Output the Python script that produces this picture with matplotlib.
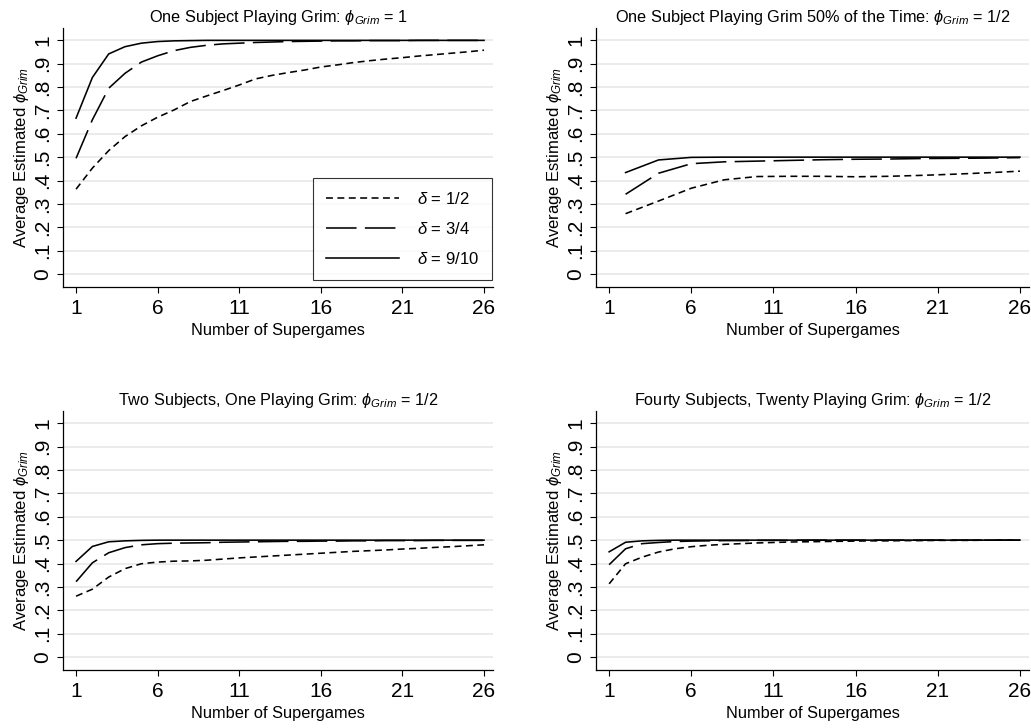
import matplotlib
matplotlib.use("Agg")
import matplotlib.pyplot as plt

plt.rcParams['font.family'] = ['Liberation Sans', 'DejaVu Sans']
plt.rcParams['mathtext.fontset'] = 'custom'
plt.rcParams['mathtext.rm'] = 'Liberation Sans'
plt.rcParams['mathtext.it'] = 'Liberation Sans:italic'
plt.rcParams['mathtext.fallback'] = 'stixsans'
plt.rcParams['lines.scale_dashes'] = False

# ---------------- data ----------------
x_all = list(range(1, 27))
x_even = list(range(2, 27, 2))

# Panel 1: One Subject Playing Grim (phi = 1)
p1_d50 = [0.363, 0.453, 0.528, 0.588, 0.634, 0.671, 0.702, 0.738, 0.762, 0.785,
          0.809, 0.835, 0.850, 0.862, 0.873, 0.886, 0.895, 0.905, 0.913, 0.920,
          0.926, 0.933, 0.939, 0.945, 0.951, 0.958]
p1_d75 = [0.495, 0.660, 0.795, 0.859, 0.907, 0.934, 0.956, 0.970, 0.979, 0.985,
          0.988, 0.991, 0.993, 0.995, 0.996, 0.997, 0.998, 0.998, 0.999, 0.999,
          0.999, 1.000, 1.000, 1.000, 1.000, 1.000]
p1_d90 = [0.667, 0.841, 0.942, 0.973, 0.988, 0.995, 0.998, 0.999, 1.000, 1.000,
          1.000, 1.000, 1.000, 1.000, 1.000, 1.000, 1.000, 1.000, 1.000, 1.000,
          1.000, 1.000, 1.000, 1.000, 1.000, 1.000]

# Panel 2: One Subject Playing Grim 50% of the Time (even supergames only)
p2_d50 = [0.258, 0.312, 0.367, 0.403, 0.417, 0.418, 0.418, 0.416, 0.418, 0.422,
          0.427, 0.433, 0.440]
p2_d75 = [0.341, 0.431, 0.472, 0.480, 0.483, 0.486, 0.489, 0.491, 0.492, 0.494,
          0.495, 0.496, 0.498]
p2_d90 = [0.434, 0.488, 0.499, 0.500, 0.500, 0.500, 0.500, 0.500, 0.500, 0.500,
          0.500, 0.500, 0.500]

# Panel 3: Two Subjects, One Playing Grim
p3_d50 = [0.260, 0.290, 0.342, 0.378, 0.399, 0.406, 0.410, 0.411, 0.414, 0.419,
          0.424, 0.428, 0.432, 0.436, 0.440, 0.444, 0.448, 0.452, 0.455, 0.458,
          0.462, 0.465, 0.469, 0.472, 0.476, 0.480]
p3_d75 = [0.322, 0.403, 0.446, 0.468, 0.480, 0.485, 0.487, 0.488, 0.489, 0.491,
          0.492, 0.493, 0.494, 0.495, 0.495, 0.496, 0.496, 0.497, 0.497, 0.498,
          0.498, 0.498, 0.499, 0.499, 0.499, 0.499]
p3_d90 = [0.409, 0.473, 0.493, 0.497, 0.499, 0.500, 0.500, 0.500, 0.500, 0.500,
          0.500, 0.500, 0.500, 0.500, 0.500, 0.500, 0.500, 0.500, 0.500, 0.500,
          0.500, 0.500, 0.500, 0.500, 0.500, 0.500]

# Panel 4: Fourty Subjects, Twenty Playing Grim
p4_d50 = [0.313, 0.399, 0.427, 0.449, 0.463, 0.472, 0.478, 0.482, 0.485, 0.488,
          0.490, 0.492, 0.493, 0.494, 0.495, 0.496, 0.497, 0.497, 0.498, 0.498,
          0.499, 0.499, 0.499, 0.500, 0.500, 0.500]
p4_d75 = [0.395, 0.463, 0.485, 0.490, 0.494, 0.496, 0.497, 0.498, 0.498, 0.499,
          0.499, 0.499, 0.500, 0.500, 0.500, 0.500, 0.500, 0.500, 0.500, 0.500,
          0.500, 0.500, 0.500, 0.500, 0.500, 0.500]
p4_d90 = [0.450, 0.491, 0.497, 0.499, 0.500, 0.500, 0.500, 0.500, 0.500, 0.500,
          0.500, 0.500, 0.500, 0.500, 0.500, 0.500, 0.500, 0.500, 0.500, 0.500,
          0.500, 0.500, 0.500, 0.500, 0.500, 0.500]

titles = [
    r"One Subject Playing Grim: $\phi_{Grim}$ = 1",
    r"One Subject Playing Grim 50% of the Time: $\phi_{Grim}$ = 1/2",
    r"Two Subjects, One Playing Grim: $\phi_{Grim}$ = 1/2",
    r"Fourty Subjects, Twenty Playing Grim: $\phi_{Grim}$ = 1/2",
]
legend_labels = [r"$\delta$ = 1/2", r"$\delta$ = 3/4", r"$\delta$ = 9/10"]
xticks = [1, 6, 11, 16, 21, 26]
yticks = [0, 0.1, 0.2, 0.3, 0.4, 0.5, 0.6, 0.7, 0.8, 0.9, 1.0]
ytick_labels = ["0", ".1", ".2", ".3", ".4", ".5", ".6", ".7", ".8", ".9", "1"]

panels = [
    (x_all, p1_d50, p1_d75, p1_d90),
    (x_even, p2_d50, p2_d75, p2_d90),
    (x_all, p3_d50, p3_d75, p3_d90),
    (x_all, p4_d50, p4_d75, p4_d90),
]

# ---------------- layout ----------------
W, H = 1031, 728
fig = plt.figure(figsize=(W / 100, H / 100), dpi=100)

def rect(l, r, t, b):
    return [l / W, 1 - b / H, (r - l) / W, (b - t) / H]

rects = [
    rect(63, 493, 28, 287),
    rect(596, 1029, 28, 287),
    rect(63, 493, 411, 670),
    rect(596, 1029, 411, 670),
]

short_dash = (0, (5.0, 3.2))
long_dash = (0, (22.0, 6.0))
lw = 1.15

for i, (r, (xs, d50, d75, d90), title) in enumerate(zip(rects, panels, titles)):
    ax = fig.add_axes(r)
    for yt in yticks:
        ax.axhline(yt, color='#e6e6e6', lw=1.1, zorder=0)
    l1, = ax.plot(xs, d50, color='black', lw=lw, linestyle=short_dash)
    l2, = ax.plot(xs, d75, color='black', lw=lw, linestyle=long_dash)
    l3, = ax.plot(xs, d90, color='black', lw=lw, linestyle='-')
    ax.set_xlim(0.2, 26.55)
    ax.set_ylim(-0.056, 1.053)
    ax.set_xticks(xticks)
    ax.set_xticklabels([str(t) for t in xticks], fontsize=15)
    ax.set_yticks(yticks)
    ax.set_yticklabels(ytick_labels, fontsize=15, rotation=90, va='center')
    ax.tick_params(axis='both', direction='out', length=4.5, width=0.8, color='black')
    ax.tick_params(axis='x', pad=4)
    ax.tick_params(axis='y', pad=3)
    for s in ['top', 'right']:
        ax.spines[s].set_visible(False)
    for s in ['left', 'bottom']:
        ax.spines[s].set_linewidth(0.9)
    ax.set_title(title, fontsize=11.7, pad=4)
    ax.set_xlabel("Number of Supergames", fontsize=11.8, labelpad=4)
    ax.set_ylabel(r"Average Estimated $\phi_{Grim}$", fontsize=12, labelpad=2)
    if i == 0:
        leg = ax.legend([l1, l2, l3], legend_labels, loc='lower right',
                        bbox_to_anchor=(1.005, 0.015), fontsize=12,
                        frameon=True, fancybox=False, edgecolor='black',
                        handlelength=4.4, handletextpad=1.1, labelspacing=0.85,
                        borderpad=0.75, borderaxespad=0.2)
        leg.get_frame().set_linewidth(0.8)
        for h in leg.get_lines():
            h.set_linewidth(lw)

fig.savefig("out.png", dpi=100)
